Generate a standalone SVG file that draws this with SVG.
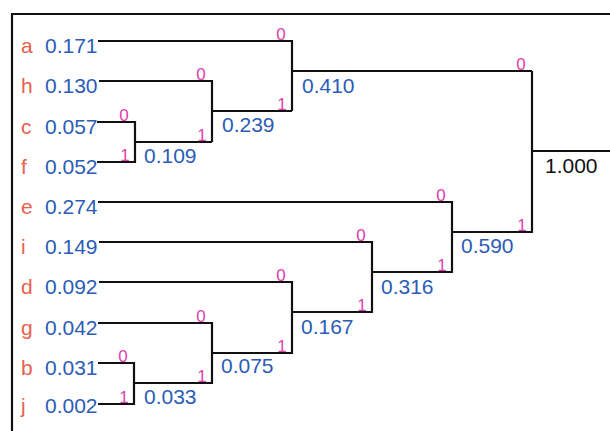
<svg xmlns="http://www.w3.org/2000/svg" width="610" height="431" viewBox="0 0 610 431">
<style>
text{font-family:"Liberation Sans",Arial,sans-serif}
.sym{fill:#e8604c;font-size:21px}
.val{fill:#2a5cb8;font-size:21px}
.root{fill:#111;font-size:21px}
.bit{fill:#e040b0;font-size:17px;text-anchor:middle}
.ln{fill:none;stroke:#111;stroke-width:2.2}
</style>
<rect width="610" height="431" fill="#fff"/>
<path class="ln" d="M12,431 V14 H610"/>
<g id="connectors">
<path class="ln" d="M97,122 H135 V162 H97 M135,142 H212"/>
<path class="ln" d="M99,81 H212 V142 M212,111 H292"/>
<path class="ln" d="M98,41 H292 V111 M292,71 H532"/>
<path class="ln" d="M532,71 V232 H452 M532,151 H610"/>
<path class="ln" d="M98,202 H452 V272 H372"/>
<path class="ln" d="M99,242 H372 V312 H292"/>
<path class="ln" d="M99,282 H292 V353 H212"/>
<path class="ln" d="M98,323 H212 V383 H134"/>
<path class="ln" d="M98,363 H134 V404 H98"/>
</g>
<g id="leaf-a"><text class="sym" x="21" y="53">a</text><text class="val" x="45" y="53">0.171</text></g>
<g id="leaf-h"><text class="sym" x="21" y="93">h</text><text class="val" x="45" y="93">0.130</text></g>
<g id="leaf-c"><text class="sym" x="21" y="134">c</text><text class="val" x="45" y="134">0.057</text></g>
<g id="leaf-f"><text class="sym" x="21" y="174">f</text><text class="val" x="45" y="174">0.052</text></g>
<g id="leaf-e"><text class="sym" x="21" y="214">e</text><text class="val" x="45" y="214">0.274</text></g>
<g id="leaf-i"><text class="sym" x="21" y="254">i</text><text class="val" x="45" y="254">0.149</text></g>
<g id="leaf-d"><text class="sym" x="21" y="294">d</text><text class="val" x="45" y="294">0.092</text></g>
<g id="leaf-g"><text class="sym" x="21" y="335">g</text><text class="val" x="45" y="335">0.042</text></g>
<g id="leaf-b"><text class="sym" x="21" y="375">b</text><text class="val" x="45" y="375">0.031</text></g>
<g id="leaf-j"><text class="sym" x="21" y="413">j</text><text class="val" x="45" y="413">0.002</text></g>
<g id="node-0109"><text class="val" x="144" y="163">0.109</text><text class="bit" x="124" y="121">0</text><text class="bit" x="125" y="161">1</text></g>
<g id="node-0239"><text class="val" x="222" y="132">0.239</text><text class="bit" x="201" y="80">0</text><text class="bit" x="202" y="141">1</text></g>
<g id="node-0410"><text class="val" x="302" y="93">0.410</text><text class="bit" x="281" y="40">0</text><text class="bit" x="282" y="110">1</text></g>
<g id="node-1000"><text class="root" x="545" y="173">1.000</text><text class="bit" x="521" y="70">0</text><text class="bit" x="522" y="231">1</text></g>
<g id="node-0590"><text class="val" x="461" y="253">0.590</text><text class="bit" x="441" y="201">0</text><text class="bit" x="442" y="271">1</text></g>
<g id="node-0316"><text class="val" x="381" y="294">0.316</text><text class="bit" x="361" y="241">0</text><text class="bit" x="362" y="311">1</text></g>
<g id="node-0167"><text class="val" x="301" y="334">0.167</text><text class="bit" x="281" y="281">0</text><text class="bit" x="282" y="352">1</text></g>
<g id="node-0075"><text class="val" x="221" y="373">0.075</text><text class="bit" x="201" y="322">0</text><text class="bit" x="202" y="382">1</text></g>
<g id="node-0033"><text class="val" x="144" y="404">0.033</text><text class="bit" x="123" y="362">0</text><text class="bit" x="124" y="403">1</text></g>
</svg>
